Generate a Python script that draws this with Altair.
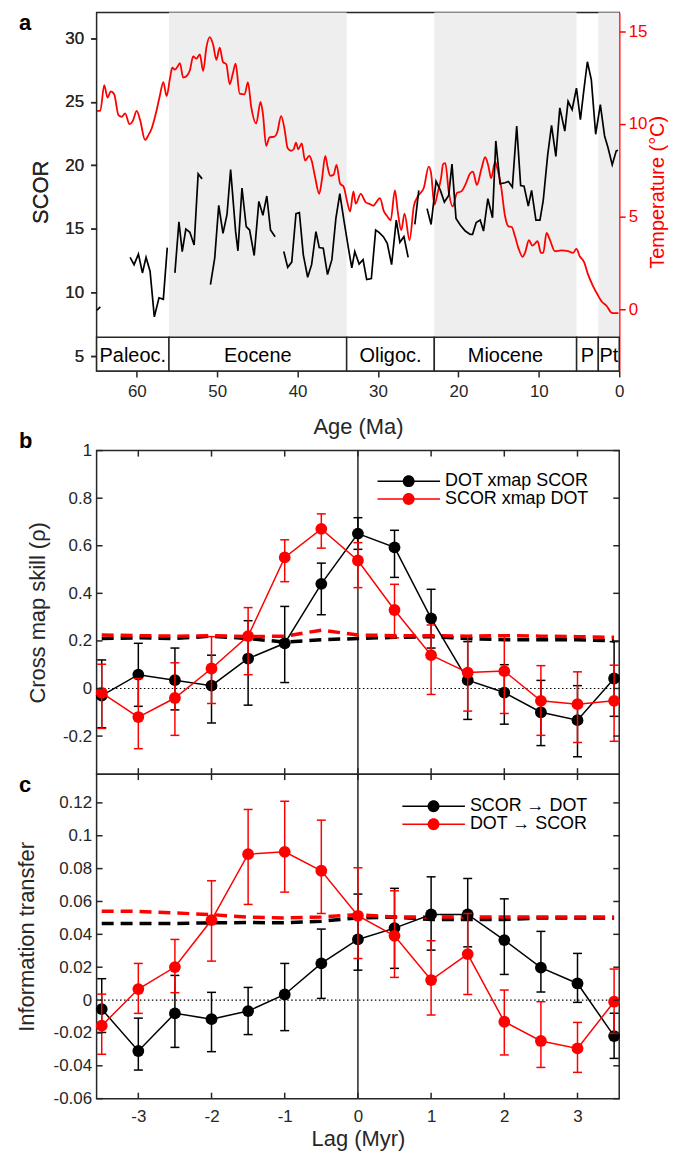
import altair as alt
import pandas as pd

FONT = "Liberation Sans"
INK = "#262626"
RED = "#ff0000"

# ---------------- Panel a data ----------------
# SCOR record (black, left axis); pieces are separated by data gaps
scor_age = [64.96, 64.54,
            60.83, 60.34, 59.80, 59.30, 58.85, 58.35, 57.82, 57.24, 56.70, 56.21,
            55.26, 54.76, 54.35, 53.90, 53.40, 52.87, 52.37, 51.88,
            50.84, 50.31, 49.81, 49.28, 48.78, 48.33, 47.71, 47.42, 46.92, 46.39,
            45.97, 45.40, 44.82, 44.32, 43.83, 43.37, 42.80,
            41.72, 41.23, 40.73, 40.20, 39.78, 39.29, 38.75, 38.26, 37.72, 37.31,
            36.81, 36.28, 35.74, 35.24, 34.75, 34.21, 33.68, 33.26, 32.89, 32.35,
            31.86, 31.41, 30.83, 30.29, 29.88, 29.34, 28.85, 28.31, 27.73, 27.28,
            26.78, 26.25,
            25.42, 24.93,
            23.90, 23.40, 22.78, 22.24, 21.75, 21.21, 20.80, 20.30, 19.77, 19.15,
            18.53, 18.24, 17.79, 17.29, 16.88, 16.34, 15.76, 15.35, 14.82, 14.20,
            13.78, 13.29, 12.75, 12.26, 11.84, 11.31, 10.90, 10.36, 9.86, 9.45,
            8.91, 8.42, 7.88, 7.39, 6.77, 6.36, 5.86, 5.32, 4.83, 4.37,
            3.96, 3.47, 2.93, 2.35, 1.82, 1.40, 0.87, 0.37, 0.16]
scor_val = [8.62, 8.88,
            12.77, 12.20, 13.03, 11.55, 12.77, 11.68, 8.10, 9.60, 9.48, 13.54,
            11.55, 15.57, 13.23, 15.00, 14.74, 13.75, 19.33, 18.94,
            10.64, 12.72, 16.86, 14.66, 16.14, 19.66, 14.79, 13.29, 18.21, 15.18,
            14.92, 12.92, 17.17, 16.08, 17.59, 14.92, 14.40,
            13.23, 11.99, 12.40, 16.21, 16.29, 12.97, 11.21, 12.20, 14.79, 13.54,
            13.49, 11.42, 12.59, 15.83, 17.77, 15.57, 13.49, 11.94, 13.23, 12.25,
            12.59, 11.03, 11.11, 14.92, 14.74, 14.40, 13.88, 12.20, 15.70, 13.96,
            14.40, 12.77,
            15.36, 18.03,
            16.60, 15.36, 18.75, 18.03, 17.12, 17.64, 20.10, 15.83, 15.31, 14.84,
            14.58, 14.58, 15.51, 15.70, 14.84, 17.38, 15.88, 21.92, 18.55, 18.63,
            18.73, 18.29, 23.08, 18.42, 18.37, 16.81, 18.03, 15.70, 15.70, 17.25,
            20.75, 23.14, 20.70, 24.51, 22.69, 25.03, 24.38, 26.06, 23.60, 26.06,
            28.14, 26.71, 22.44, 24.77, 22.31, 21.40, 20.05, 21.14, 21.19]
scor_piece_len = [2, 10, 8, 17, 32, 2, 49]

# Deep ocean temperature (red, right axis)
temp_age = [64.96, 64.54, 64.05, 63.64, 63.23, 62.81, 62.28, 61.86, 61.45, 60.91,
            60.50, 60.01, 59.59, 58.97, 58.56, 58.15, 57.53, 57.12, 56.70, 56.29,
            55.88, 55.59, 55.26, 54.97, 54.64, 54.23, 53.82, 53.40, 52.99, 52.58,
            52.16, 51.75, 51.34, 50.93, 50.51, 50.10, 49.69, 49.28, 48.86, 48.45,
            48.04, 47.71, 47.21, 46.59, 46.18, 45.77, 45.15, 44.61, 44.32, 43.91,
            43.50,
            42.88, 42.55, 42.05, 41.64, 41.23, 40.82, 40.49, 40.20, 39.91, 39.49,
            39.08, 38.55, 38.26, 37.84, 37.31, 36.98, 36.56, 36.28, 35.95, 35.53,
            35.16, 34.71, 34.29, 33.80, 33.47, 33.06, 32.77, 32.15, 31.53, 31.12,
            30.58, 30.29, 29.76, 29.26, 28.85, 28.43, 27.90, 27.53, 27.11, 26.70,
            26.08, 25.55, 25.05, 24.31, 23.69, 23.40, 22.99, 22.57, 22.16,
            21.90, 21.63, 21.21, 20.72, 20.18, 19.64, 19.15, 18.53, 18.20, 17.70,
            17.17, 16.67, 16.26, 15.93, 15.44, 15.23, 14.69, 14.20, 13.78, 13.37,
            12.96, 12.55, 12.01, 11.72, 11.23, 10.81, 10.40, 10.15, 9.74, 9.45,
            9.04, 8.63, 8.01, 7.18, 6.36, 5.74, 5.32, 4.91, 4.37, 3.88,
            3.26, 2.72, 2.23, 1.49, 0.99, 0.58, 0.10]
temp_val = [10.71, 10.71, 12.09, 11.42, 11.76, 11.60, 10.48, 10.39, 10.57, 9.99,
            10.17, 10.71, 10.21, 9.14, 9.40, 9.76, 10.75, 11.55, 12.26, 11.50,
            12.44, 13.03, 12.93, 13.07, 13.28, 12.50, 12.57, 12.89, 13.64, 13.52,
            13.75, 12.85, 14.14, 14.68, 14.28, 13.46, 14.11, 13.34, 13.21, 12.14,
            12.75, 13.25, 11.64, 11.60, 12.26, 10.92, 10.03, 11.19, 10.57, 8.82,
            9.28,
            9.32, 9.53, 10.42, 9.76, 8.69, 8.56, 8.64, 8.99, 8.64, 8.96,
            8.03, 8.28, 8.03, 7.17, 6.24, 6.99, 8.28, 7.71, 7.21, 7.26,
            7.80, 6.78, 6.63, 5.74, 5.29, 6.37, 5.71, 6.24, 5.78, 5.71,
            5.60, 5.74, 6.01, 5.29, 5.03, 4.81, 6.42, 5.24, 4.28, 5.17,
            3.74, 5.56, 6.10, 6.55, 7.71, 7.35, 5.65, 6.31, 7.08,
            7.85, 7.89, 6.37, 5.56, 6.28, 6.37, 6.72, 7.35, 7.44, 6.72,
            7.53, 8.21, 7.71, 7.08, 7.97, 7.71, 6.63, 5.03, 4.49, 4.45,
            3.95, 3.33, 2.85, 3.06, 3.74, 3.45, 3.60, 3.69, 3.06, 3.06,
            4.13, 3.77, 3.15, 3.19, 3.15, 3.06, 3.27, 2.88, 2.56, 1.90,
            1.27, 0.83, 0.47, 0.16, -0.16, -0.19, -0.19]

epoch_names = ["Paleoc.", "Eocene", "Oligoc.", "Miocene", "P", "Pt"]
epoch_start = [65, 56, 33.9, 23, 5.3, 2.6]
epoch_end = [56, 33.9, 23, 5.3, 2.6, 0]
shade_start = [56, 23, 2.6]
shade_end = [33.9, 5.3, 0]

age_ticks = [0, 10, 20, 30, 40, 50, 60]
scor_ticks = [5, 10, 15, 20, 25, 30]
temp_ticks = [0, 5, 10, 15]
panel_letters = ["a", "b", "c"]

# ---------------- Panels b, c data ----------------
lags = [-3.5, -3, -2.5, -2, -1.5, -1, -0.5, 0, 0.5, 1, 1.5, 2, 2.5, 3, 3.5]
lag_ticks = [-3, -2, -1, 0, 1, 2, 3]

b_names = ["DOT xmap SCOR", "SCOR xmap DOT"]
b1_v = [-0.03, 0.058, 0.035, 0.012, 0.126, 0.19, 0.44, 0.651, 0.593, 0.295, 0.035, -0.017, -0.1, -0.133, 0.042]
b1_lo = [-0.165, -0.075, -0.09, -0.145, -0.07, 0.025, 0.31, 0.585, 0.467, 0.17, -0.13, -0.15, -0.24, -0.287, -0.117]
b1_hi = [0.12, 0.19, 0.17, 0.14, 0.285, 0.345, 0.527, 0.718, 0.665, 0.417, 0.197, 0.1, 0.034, 0.012, 0.197]
b2_v = [-0.018, -0.12, -0.04, 0.084, 0.22, 0.551, 0.671, 0.538, 0.33, 0.14, 0.067, 0.073, -0.052, -0.066, -0.052]
b2_lo = [-0.168, -0.253, -0.197, -0.063, 0.058, 0.449, 0.59, 0.424, 0.213, -0.025, -0.095, -0.105, -0.197, -0.227, -0.222]
b2_hi = [0.102, 0.042, 0.108, 0.218, 0.34, 0.625, 0.734, 0.613, 0.438, 0.267, 0.222, 0.224, 0.096, 0.07, 0.098]
b1_sig = [0.21, 0.213, 0.21, 0.22, 0.21, 0.195, 0.205, 0.21, 0.215, 0.218, 0.21, 0.205, 0.205, 0.205, 0.2]
b2_sig = [0.225, 0.222, 0.22, 0.222, 0.218, 0.22, 0.245, 0.225, 0.222, 0.222, 0.22, 0.222, 0.22, 0.218, 0.215]
b_ticks = [-0.2, 0, 0.2, 0.4, 0.6, 0.8, 1]

c_names = ["SCOR \u2192 DOT", "DOT \u2192 SCOR"]
c1_v = [-0.0055, -0.031, -0.0081, -0.0116, -0.0067, 0.0034, 0.0223, 0.0369, 0.0438, 0.0521, 0.0521, 0.0365, 0.0197, 0.0101, -0.0219]
c1_lo = [-0.0197, -0.0426, -0.0288, -0.0314, -0.021, -0.0186, 0.001, 0.0182, 0.0193, 0.0304, 0.0324, 0.0156, 0.0049, -0.0014, -0.0355]
c1_hi = [0.013, -0.011, 0.015, 0.0047, 0.0077, 0.0223, 0.0432, 0.0645, 0.068, 0.075, 0.074, 0.0616, 0.0418, 0.0284, -0.008]
c2_v = [-0.0156, 0.0067, 0.0201, 0.0487, 0.0888, 0.0902, 0.0787, 0.0513, 0.0391, 0.0122, 0.028, -0.0132, -0.0249, -0.0294, -0.001]
c2_lo = [-0.033, -0.0081, 0.0045, 0.0237, 0.0582, 0.0657, 0.0527, 0.0253, 0.0138, -0.0091, 0.0034, -0.0334, -0.041, -0.044, -0.0203]
c2_hi = [0.0036, 0.0223, 0.0369, 0.0726, 0.116, 0.121, 0.1095, 0.0805, 0.0665, 0.0361, 0.0527, 0.0061, -0.001, -0.0136, 0.0189]
c1_sig = [0.0466, 0.0466, 0.0466, 0.047, 0.0472, 0.047, 0.048, 0.05, 0.0505, 0.049, 0.049, 0.049, 0.05, 0.05, 0.05]
c2_sig = [0.054, 0.054, 0.053, 0.052, 0.0505, 0.05, 0.0505, 0.052, 0.0505, 0.0505, 0.0505, 0.0505, 0.0505, 0.0505, 0.0505]
c_ticks = [-0.06, -0.04, -0.02, 0, 0.02, 0.04, 0.06, 0.08, 0.1, 0.12]

# ---------------- layout constants ----------------
W = 525
HA, HB, HC = 360, 325, 326
TICK = 6
SCOR_DOMAIN = [3.85, 32]
TEMP_DOMAIN = [-3.3, 16]
BAR_TOP = 6.5
LETTER_X = -78
MINUS = "replace(datum.label, '\u2212', '-')"


def axis(**kw):
    d = dict(labelFont=FONT, titleFont=FONT, labelFontSize=17, titleFontSize=22,
             labelColor=INK, titleColor=INK, titleFontWeight="normal", grid=False,
             labelFlush=False, labelOverlap=False)
    d.update(kw)
    return alt.Axis(**d)


def letter_layer(ch, y):
    return alt.Chart(pd.DataFrame({"t": [ch]})).mark_text(
        font=FONT, fontSize=22, fontWeight="bold", color="black",
        align="left", baseline="alphabetic"
    ).encode(text="t:N", x=alt.value(LETTER_X), y=alt.value(y))


# ---------------- Panel a ----------------
seg = []
for i, n in enumerate(scor_piece_len):
    seg += [i] * n
df_scor = pd.DataFrame({"age": scor_age, "scor": scor_val, "seg": seg})
df_temp = pd.DataFrame({"age": temp_age, "temp": temp_val})
df_epoch = pd.DataFrame({"name": epoch_names, "start": epoch_start, "end": epoch_end})
df_epoch["mid"] = (df_epoch["start"] + df_epoch["end"]) / 2
df_epoch["b0"] = SCOR_DOMAIN[0]
df_epoch["b1"] = BAR_TOP
df_epoch["ty"] = 5.05
df_shade = pd.DataFrame({"start": shade_start, "end": shade_end})
df_shade["lo"] = BAR_TOP
df_shade["hi"] = SCOR_DOMAIN[1]

age_scale = alt.Scale(domain=[0, 65], reverse=True, nice=False, zero=False)
scor_scale = alt.Scale(domain=SCOR_DOMAIN, nice=False, zero=False)
temp_scale = alt.Scale(domain=TEMP_DOMAIN, nice=False, zero=False)

age_axis = axis(orient="bottom", values=age_ticks, title="Age (Ma)", tickSize=6,
                tickColor=INK, tickWidth=1.5, domain=False, labelPadding=7, titlePadding=17)
scor_axis = axis(orient="left", values=scor_ticks, title="SCOR", tickSize=6,
                 tickColor=INK, tickWidth=1.5, domain=False, labelPadding=7, titlePadding=12)
temp_axis = axis(orient="right", values=temp_ticks, title="Temperature (\u00b0C)",
                 labelColor=RED, titleColor=RED, tickColor=RED, domainColor=RED,
                 domainWidth=1.5, tickSize=6, tickWidth=1.5, labelPadding=3,
                 titlePadding=1, titleFontSize=20, titleAngle=270, titleBaseline="top")

shade = alt.Chart(df_shade).mark_rect(fill="#eeeeee").encode(
    x=alt.X("start:Q", scale=age_scale, axis=age_axis), x2="end:Q",
    y=alt.Y("lo:Q", scale=scor_scale, axis=scor_axis), y2="hi:Q")
ebox = alt.Chart(df_epoch).mark_rect(fill="white", stroke=INK, strokeWidth=1.5).encode(
    x=alt.X("start:Q", scale=age_scale, axis=age_axis), x2="end:Q",
    y=alt.Y("b0:Q", scale=scor_scale, axis=scor_axis), y2="b1:Q")
etext = alt.Chart(df_epoch).mark_text(font=FONT, fontSize=20, color="black", baseline="middle").encode(
    x=alt.X("mid:Q", scale=age_scale, axis=age_axis),
    y=alt.Y("ty:Q", scale=scor_scale, axis=scor_axis), text="name:N")
deco = alt.layer(shade, ebox, etext, letter_layer(panel_letters[0], 17))

temp_line = alt.Chart(df_temp).mark_line(color=RED, strokeWidth=1.8, interpolate="monotone").encode(
    x=alt.X("age:Q", scale=age_scale, axis=age_axis),
    y=alt.Y("temp:Q", scale=temp_scale, axis=temp_axis))

scor_line = alt.Chart(df_scor).mark_line(color="black", strokeWidth=1.7).encode(
    x=alt.X("age:Q", scale=age_scale, axis=age_axis),
    y=alt.Y("scor:Q", scale=scor_scale, axis=scor_axis),
    detail="seg:N")

panel_a = alt.layer(deco, temp_line, scor_line).resolve_scale(y="independent").properties(
    width=W, height=HA)

# ---------------- Panels b, c ----------------
lag_scale = alt.Scale(domain=[-3.57, 3.57], nice=False, zero=False)
SYMBOL = "M-1,-0.024H1V0.024H-1Z M-0.19,0A0.19,0.19,0,1,1,0.19,0A0.19,0.19,0,1,1,-0.19,0Z"


def lag_panel(names, s1, s2, sig1, sig2, ydomain, yticks, ytitle, ytitle_pad,
              letter, letter_y, leg_x, leg_y, height, with_x_axis):
    yscale = alt.Scale(domain=ydomain, nice=False, zero=False)
    x_axis = axis(values=lag_ticks, title="Lag (Myr)", ticks=False, domain=False,
                  labelPadding=10, titlePadding=4, labelExpr=MINUS) if with_x_axis else None
    y_axis = axis(values=yticks, format="~g", labelExpr=MINUS, ticks=False, domain=False,
                  labelPadding=5, title=ytitle, titlePadding=ytitle_pad)

    def X(f):
        return alt.X(f, scale=lag_scale, axis=x_axis)

    def Y(f):
        return alt.Y(f, scale=yscale, axis=y_axis)

    legend = alt.Legend(title=None, orient="none", legendX=leg_x, legendY=leg_y,
                        symbolType=SYMBOL, symbolSize=3969, symbolStrokeWidth=0,
                        symbolOpacity=1, clipHeight=18, rowPadding=0, padding=0,
                        labelFont=FONT, labelFontSize=18, labelColor="black",
                        labelOffset=5, labelLimit=400)
    color = alt.Color("series:N", scale=alt.Scale(domain=names, range=["#000000", RED]),
                      legend=legend)

    zdf = pd.DataFrame({"z": [0.0]})
    zero = alt.Chart(zdf).mark_rule(color="black", strokeWidth=1.2, strokeDash=[1.5, 2.5]).encode(
        y=Y("z:Q"))
    vline = alt.Chart(zdf).mark_rule(color=INK, strokeWidth=1.5).encode(x=X("z:Q"))

    layers = [zero, vline]
    for sig, col in ((sig1, "#000000"), (sig2, RED)):
        ddf = pd.DataFrame({"lag": lags, "d": sig})
        layers.append(alt.Chart(ddf).mark_line(color=col, strokeWidth=3.5, strokeDash=[12, 7]).encode(
            x=X("lag:Q"), y=Y("d:Q")))

    for (v, lo, hi), name, col in ((s1, names[0], "#000000"), (s2, names[1], RED)):
        df = pd.DataFrame({"lag": lags, "v": v, "lo": lo, "hi": hi, "series": name})
        base = alt.Chart(df)
        layers += [
            base.mark_rule(color=col, strokeWidth=1.5).encode(x=X("lag:Q"), y=Y("lo:Q"), y2="hi:Q"),
            base.mark_tick(color=col, orient="horizontal", thickness=1.5, size=9, opacity=1).encode(
                x=X("lag:Q"), y=Y("lo:Q")),
            base.mark_tick(color=col, orient="horizontal", thickness=1.5, size=9, opacity=1).encode(
                x=X("lag:Q"), y=Y("hi:Q")),
            base.mark_line(color=col, strokeWidth=1.5).encode(x=X("lag:Q"), y=Y("v:Q")),
            base.mark_point(filled=True, size=140, opacity=1).encode(
                x=X("lag:Q"), y=Y("v:Q"), color=color),
        ]

    txdf = pd.DataFrame({"t": lag_ticks})
    tydf = pd.DataFrame({"t": yticks})
    rule = dict(color=INK, strokeWidth=1.5)
    layers += [
        alt.Chart(txdf).mark_rule(**rule).encode(x=X("t:Q"), y=alt.value(height), y2=alt.value(height - TICK)),
        alt.Chart(txdf).mark_rule(**rule).encode(x=X("t:Q"), y=alt.value(0), y2=alt.value(TICK)),
        alt.Chart(tydf).mark_rule(**rule).encode(y=Y("t:Q"), x=alt.value(0), x2=alt.value(TICK)),
        alt.Chart(tydf).mark_rule(**rule).encode(y=Y("t:Q"), x=alt.value(W), x2=alt.value(W - TICK)),
        letter_layer(letter, letter_y),
    ]
    return alt.layer(*layers).properties(width=W, height=height)


panel_b = lag_panel(b_names, (b1_v, b1_lo, b1_hi), (b2_v, b2_lo, b2_hi), b1_sig, b2_sig,
                    [-0.36, 1], b_ticks, "Cross map skill (\u03c1)", 13,
                    panel_letters[1], -3, 282, 21.7, HB, False)
panel_c = lag_panel(c_names, (c1_v, c1_lo, c1_hi), (c2_v, c2_lo, c2_hi), c1_sig, c2_sig,
                    [-0.06, 0.1375], c_ticks, "Information transfer", 15,
                    panel_letters[2], 18, 307, 23.3, HC, True)

inner = alt.vconcat(panel_b, panel_c, spacing=0, bounds="flush").resolve_scale(color="independent")

chart = alt.vconcat(panel_a, inner, spacing=80, bounds="flush").properties(
    padding={"left": 6, "top": 0, "right": 0, "bottom": 5}
).configure(font=FONT).configure_view(stroke=INK, strokeWidth=1.5)

chart.save("out.html", embed_options={"renderer": "svg", "actions": False})
